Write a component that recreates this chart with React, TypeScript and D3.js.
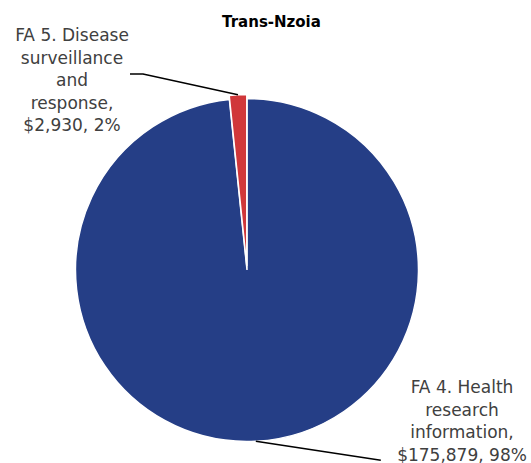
import React from "react";
import * as d3 from "d3";

const title = "Trans-Nzoia";
const categories = ["FA 4. Health research information", "FA 5. Disease surveillance and response"];
const values = [175879, 2930];
const labelLines = [
  ["FA 4. Health", "research", "information,", "$175,879, 98%"],
  ["FA 5. Disease", "surveillance", "and", "response,", "$2,930, 2%"],
];
const colors = ["#253E86", "#D0373A"];

export default function App() {
  const W = 531, H = 463;
  const cx = 247, cy = 270, r = 171.5;
  const explode = [0, 4];
  const pie = d3.pie<number>().sort(null).value(d => d)(values);
  const arc = d3.arc<d3.PieArcDatum<number>>().innerRadius(0).outerRadius(r);
  const font = "'DejaVu Sans', sans-serif";
  const labelPos = [
    { x: 462, y: 393, line: [[0, 0], [125, 19]] },
    { x: 72, y: 41, line: [[143, 74], [130, 74]] },
  ];
  return (
    <svg width={W} height={H} style={{ position: "absolute", left: 0, top: 0 }}>
      <rect width={W} height={H} fill="#fff" />
      <text x={271.5} y={27} textAnchor="middle" fontFamily={font} fontWeight="bold" fontSize={15} fill="#000">{title}</text>
      <g transform={`translate(${cx},${cy})`}>
        {pie.map((p, i) => {
          const mid = (p.startAngle + p.endAngle) / 2;
          const ox = Math.sin(mid) * explode[i];
          const oy = -Math.cos(mid) * explode[i];
          return (
            <path key={categories[i]} d={arc(p) || ""} transform={`translate(${ox},${oy})`} fill={colors[i]} stroke="#fff" strokeWidth={1.5} />
          );
        })}
      </g>
      {pie.map((p, i) => {
        const mid = (p.startAngle + p.endAngle) / 2;
        const rr = r + explode[i];
        const ex = cx + Math.sin(mid) * rr;
        const ey = cy - Math.cos(mid) * rr;
        const lp = labelPos[i];
        let pts: [number, number][];
        if (i === 0) pts = [[ex, ey], [ex + lp.line[1][0], ey + lp.line[1][1]]];
        else pts = [[ex, ey], lp.line[0] as [number, number], lp.line[1] as [number, number]];
        return (
          <g key={"l" + i}>
            <polyline points={pts.map(q => q.join(",")).join(" ")} fill="none" stroke="#000" strokeWidth={1.5} />
            <text textAnchor="middle" fontFamily={font} fontSize={17} fill="#404040">
              {labelLines[i].map((t, j) => (
                <tspan key={j} x={lp.x} y={lp.y + j * 22.5}>{t}</tspan>
              ))}
            </text>
          </g>
        );
      })}
    </svg>
  );
}
